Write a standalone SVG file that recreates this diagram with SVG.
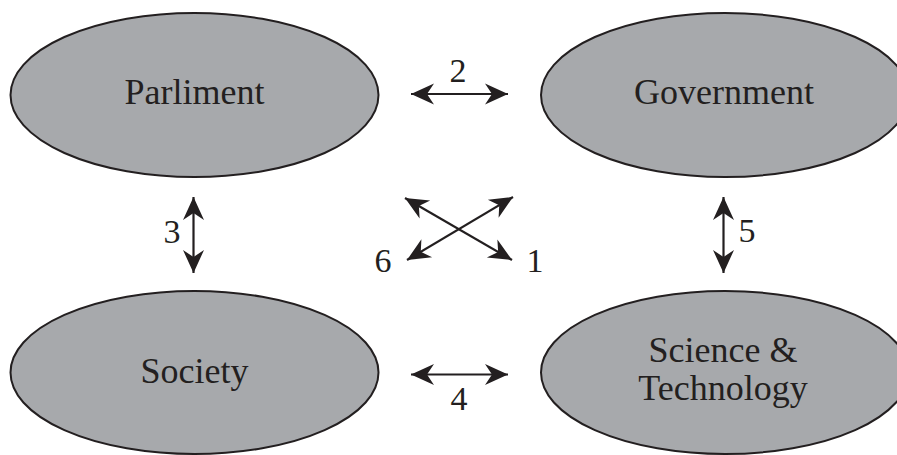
<svg xmlns="http://www.w3.org/2000/svg" width="897" height="455" viewBox="0 0 897 455">
<style>
.node{fill:#a7a9ac;stroke:#231f20;stroke-width:2}
.nt{font-family:"Liberation Serif",serif;font-size:36px;fill:#231f20;text-anchor:middle}
.lb{font-family:"Liberation Serif",serif;font-size:34px;fill:#231f20;text-anchor:middle}
.ar{stroke:#231f20;stroke-width:2.2;fill:none;marker-start:url(#h);marker-end:url(#h)}
</style>
<defs>
<marker id="h" viewBox="-25 -11 26 22" refX="0" refY="0" markerWidth="26" markerHeight="22" markerUnits="userSpaceOnUse" orient="auto-start-reverse">
<path d="M0,0 L-23,-10.5 L-16,0 L-23,10.5 Z" fill="#231f20"/>
</marker>
</defs>
<rect width="897" height="455" fill="#fff"/>
<g id="parliment"><ellipse class="node" cx="194.5" cy="95" rx="184" ry="82"/><text class="nt" x="194.5" y="104">Parliment</text></g>
<g id="government"><ellipse class="node" cx="725" cy="95" rx="184" ry="82"/><text class="nt" x="724" y="103.5">Government</text></g>
<g id="society"><ellipse class="node" cx="194.5" cy="372.5" rx="184" ry="81.5"/><text class="nt" x="194.5" y="383">Society</text></g>
<g id="science"><ellipse class="node" cx="725" cy="372.5" rx="184" ry="81.5"/><text class="nt" x="723" y="362">Science &amp;</text><text class="nt" x="723" y="400">Technology</text></g>
<g id="connectors">
<line class="ar" x1="411" y1="94" x2="508" y2="94"/>
<line class="ar" x1="411" y1="374.5" x2="508" y2="374.5"/>
<line class="ar" x1="193.5" y1="197" x2="193.5" y2="273"/>
<line class="ar" x1="723.5" y1="197" x2="723.5" y2="273"/>
<line class="ar" x1="405" y1="198" x2="512" y2="260"/>
<line class="ar" x1="407" y1="260" x2="513" y2="197"/>
<text class="lb" x="458" y="82">2</text>
<text class="lb" x="172" y="243">3</text>
<text class="lb" x="747" y="242">5</text>
<text class="lb" x="459" y="410">4</text>
<text class="lb" x="383" y="272">6</text>
<text class="lb" x="535" y="272">1</text>
</g>
</svg>
